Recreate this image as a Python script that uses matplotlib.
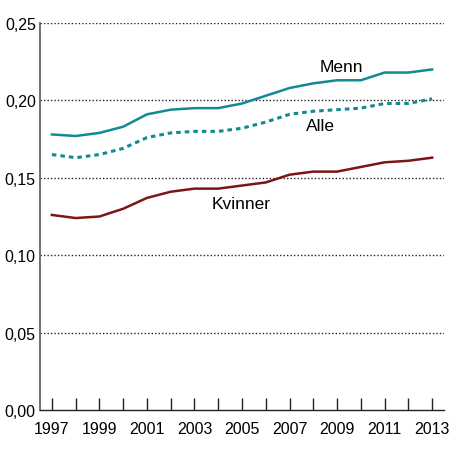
import matplotlib
matplotlib.use("Agg")
import matplotlib.pyplot as plt

years = list(range(1997, 2014))
menn = [0.178, 0.177, 0.179, 0.183, 0.191, 0.194, 0.195, 0.195, 0.198, 0.203,
        0.208, 0.211, 0.213, 0.213, 0.218, 0.218, 0.220]
alle = [0.165, 0.163, 0.165, 0.169, 0.176, 0.179, 0.180, 0.180, 0.182, 0.186,
        0.191, 0.193, 0.194, 0.195, 0.198, 0.198, 0.201]
kvinner = [0.126, 0.124, 0.125, 0.130, 0.137, 0.141, 0.143, 0.143, 0.145, 0.147,
           0.152, 0.154, 0.154, 0.157, 0.160, 0.161, 0.163]
yticks = [0.00, 0.05, 0.10, 0.15, 0.20, 0.25]
ytick_labels = ["0,00", "0,05", "0,10", "0,15", "0,20", "0,25"]

plt.rcParams['font.family'] = ['Liberation Sans', 'DejaVu Sans']

teal = "#138a93"
red = "#7a1712"

fig = plt.figure(figsize=(4.5, 4.52), dpi=100)
ax = fig.add_axes([40/450, 1 - 411/452, 404/450, 387/452])

for y in yticks[1:]:
    ax.axhline(y, color="#222222", lw=1.0, ls=(0, (1, 1.5)), zorder=1)

ax.plot(years, menn, color=teal, lw=1.8, zorder=3)
ax.plot(years, alle, color=teal, lw=2.2, ls=(0, (1.5, 1.3)), zorder=3)
ax.plot(years, kvinner, color=red, lw=1.8, zorder=3)

ax.text(2009.2, 0.2222, "Menn", fontsize=12.5, ha="center", va="center")
ax.text(2008.3, 0.1835, "Alle", fontsize=12.5, ha="center", va="center")
ax.text(2004.95, 0.1331, "Kvinner", fontsize=12.5, ha="center", va="center")

ax.set_xlim(1996.5, 2013.5)
ax.set_ylim(0, 0.25)
ax.set_yticks(yticks)
ax.set_yticklabels(ytick_labels, fontsize=11.5)
ax.set_xticks(years)
ax.set_xticklabels([str(y) if (y - 1997) % 2 == 0 else "" for y in years], fontsize=11.5)

for s in ["top", "right"]:
    ax.spines[s].set_visible(False)
ax.spines["left"].set_color("#666666")
ax.spines["left"].set_linewidth(1.3)
ax.spines["bottom"].set_color("#222222")
ax.spines["bottom"].set_linewidth(1.0)
ax.tick_params(axis="y", length=0, pad=3)
ax.tick_params(axis="x", direction="in", length=9, width=1.0, color="#222222", pad=8)

fig.savefig("out.png", dpi=100)
